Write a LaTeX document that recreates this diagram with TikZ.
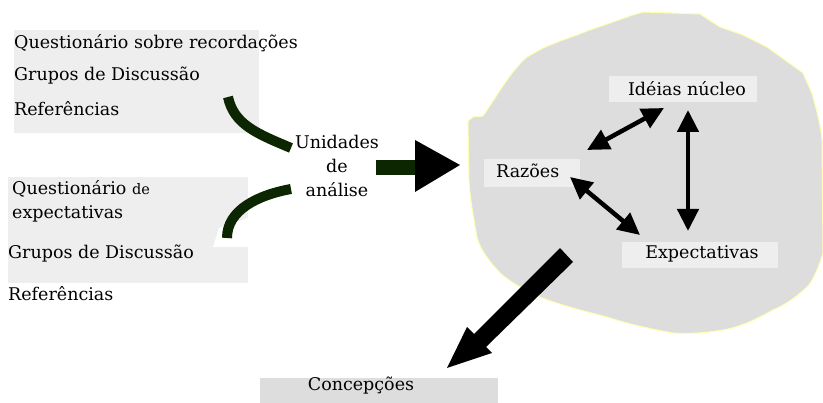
\documentclass[tikz,border=0pt]{standalone}
\usepackage{fontspec}
\setmainfont{DejaVu Serif}
\usetikzlibrary{arrows.meta}
\definecolor{boxgray}{HTML}{EEEEEE}
\definecolor{blobgray}{HTML}{DDDDDD}
\definecolor{blobedge}{HTML}{FFFFB0}
\definecolor{band}{HTML}{0B2600}
\tikzset{
  lbl/.style={inner sep=0pt, anchor=west, font=\fontsize{17.5}{20}\selectfont},
  ctr/.style={inner sep=0pt, font=\fontsize{17.5}{20}\selectfont},
  bandline/.style={draw=band, line width=10pt},
  dbl/.style={draw=black, line width=4.5pt, {Triangle[length=22pt,width=21pt]}-{Triangle[length=22pt,width=21pt]}},
}
\begin{document}
\begin{tikzpicture}[x=1pt,y=-1pt]
\useasboundingbox (0,0) rectangle (823,403);
% left boxes
\fill[boxgray] (14,30) rectangle (259,133);
\fill[boxgray] (8,177) rectangle (248,283);
\node[lbl] (q1) at (14,43) {Questionário sobre recordações};
\node[lbl] (g1) at (14,76) {Grupos de Discussão};
\node[lbl] (r1) at (14,109) {Referências};
\node[lbl] (q2) at (12,189) {Questionário {\fontsize{14.5}{17}\selectfont de}};
\node[lbl] (e2) at (12,214) {expectativas};
\node[lbl] (g2) at (8,254) {Grupos de Discussão};
\node[lbl] (r2) at (8,294) {Referências};
% unidades
\node[ctr, align=center, font=\fontsize{17.5}{24}\selectfont] (ua) at (337,166) {Unidades\\de\\análise};
% curved bands
\coordinate (b1s) at (228,97);
\coordinate (b1e) at (291,148);
\coordinate (b2s) at (291,189);
\coordinate (b2e) at (227,238);
\fill[white] (219,228) -- (213,247) -- (248,247) -- (248,218) -- cycle;
\draw[bandline] (b1s) .. controls (234,125) and (258,134) .. (b1e);
\draw[bandline] (b2s) .. controls (258,195) and (227,210) .. (b2e);
% blob
\filldraw[fill=blobgray, draw=blobedge, line width=1pt]
 (468,121) -- (473,117) -- (483,116)
 .. controls (490,106) and (505,82) .. (513,72)
 .. controls (518,66) and (522,61) .. (527,57)
 -- (543,48) -- (560,41) -- (577,35) -- (587,31) -- (610,23) -- (633,15) -- (643,12)
 -- (700,14) -- (720,27) -- (743,35) -- (767,47) -- (803,73)
 .. controls (808,85) and (812,92) .. (813,97)
 .. controls (818,115) and (821,128) .. (822,140)
 -- (823,253) .. controls (818,270) and (812,282) .. (807,287)
 .. controls (795,298) and (785,305) .. (773,310)
 .. controls (755,320) and (740,327) .. (723,330)
 .. controls (705,333) and (690,334) .. (673,333)
 .. controls (645,328) and (625,323) .. (607,317)
 .. controls (580,310) and (560,305) .. (540,297)
 .. controls (520,288) and (508,280) .. (500,273)
 .. controls (490,262) and (480,250) .. (477,237)
 .. controls (474,220) and (470,200) .. (469,180)
 -- cycle;
% straight arrow into blob
\coordinate (sa) at (377,167);
\fill[band] (376,160) rectangle (416,175);
\fill[black] (415,140) -- (460,165) -- (415,192) -- cycle;
% inner nodes
\fill[boxgray] (609,76) rectangle (757,102);
\fill[boxgray] (484,159) rectangle (580,187);
\fill[boxgray] (622,242) rectangle (778,268);
\node[ctr] (id) at (687,89) {Idéias núcleo};
\node[lbl] (rz) at (496,171) {Razões};
\node[ctr] (ex) at (702,254) {Expectativas};
% double arrows
\coordinate (a1s) at (587,150);
\coordinate (a1e) at (664,108);
\coordinate (a2s) at (688,110);
\coordinate (a2e) at (688,231);
\coordinate (a3s) at (570,177);
\coordinate (a3e) at (640,235);
\draw[dbl] (a1s) -- (a1e);
\draw[dbl] (a2s) -- (a2e);
\draw[dbl] (a3s) -- (a3e);
% big down-left arrow
\fill[black] (560,248) -- (573,262) -- (486,347) -- (492,353) -- (447,368) -- (467,327) -- (474,334) -- cycle;
% concepcoes
\fill[blobgray] (260,378) rectangle (498,403);
\node[ctr] (cc) at (361,386) {Concepções};
\end{tikzpicture}
\end{document}
